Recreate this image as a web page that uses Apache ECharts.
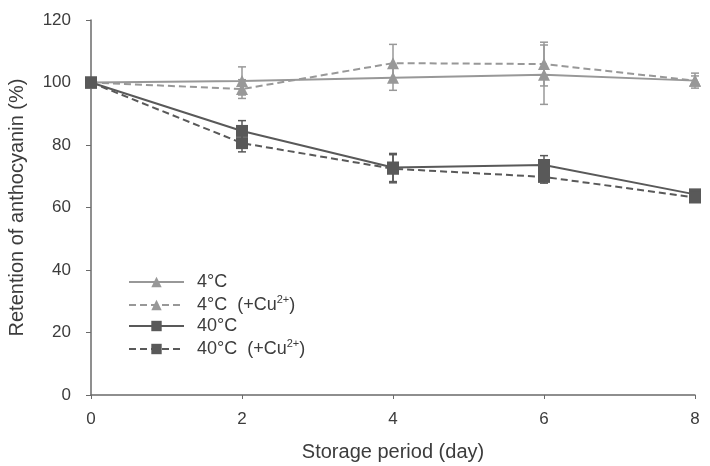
<!DOCTYPE html>
<html>
<head>
<meta charset="utf-8">
<script src="https://cdn.jsdelivr.net/npm/echarts@6/dist/echarts.min.js"></script>
<style>
  html, body { margin: 0; padding: 0; background: #fff; }
  #chart { width: 710px; height: 466px; }
</style>
</head>
<body>
<div id="chart"></div>
<script>
// storage period (day)
var days = [0, 2, 4, 6, 8];

// retention (%) and error (+/-) per treatment
var c4 = [100, 100.5, 101.5, 102.5, 100.6];
var c4Err = [0, 4.5, 4, 9.5, 1.5];
var c4Cu = [100, 97.9, 106.2, 105.9, 100.6];
var c4CuErr = [0, 3, 6, 7, 2.4];
var c40 = [100, 84.5, 72.8, 73.6, 64.2];
var c40Err = [0, 3.3, 4.5, 3, 1];
var c40Cu = [100, 80.6, 72.4, 69.8, 63.2];
var c40CuErr = [0, 2.8, 4.5, 2, 1];

var names = ['4°C', '4°C  (+Cu2+)', '40°C', '40°C  (+Cu2+)'];
var light = '#989898';
var dark = '#595959';
var txt = '#3c3c3c';

function pairs(vals) {
  return days.map(function (d, i) { return [d, vals[i]]; });
}

function errorSeries(vals, errs, color) {
  return {
    type: 'custom',
    name: 'err',
    z: 3,
    data: days.map(function (d, i) { return [d, vals[i] - errs[i], vals[i] + errs[i]]; }),
    renderItem: function (params, api) {
      var lo = api.coord([api.value(0), api.value(1)]);
      var hi = api.coord([api.value(0), api.value(2)]);
      var w = 4;
      var st = { stroke: color, lineWidth: 1.5 };
      return {
        type: 'group',
        children: [
          { type: 'line', shape: { x1: lo[0], y1: lo[1], x2: hi[0], y2: hi[1] }, style: st },
          { type: 'line', shape: { x1: lo[0] - w, y1: lo[1], x2: lo[0] + w, y2: lo[1] }, style: st },
          { type: 'line', shape: { x1: hi[0] - w, y1: hi[1], x2: hi[0] + w, y2: hi[1] }, style: st }
        ]
      };
    }
  };
}

function lineSeries(name, vals, color, symbol, size, dashed) {
  return {
    type: 'line',
    name: name,
    z: 4,
    data: pairs(vals),
    symbol: symbol,
    symbolSize: size,
    showSymbol: true,
    itemStyle: { color: color },
    lineStyle: { color: color, width: 2, type: dashed ? [7, 4] : 'solid' }
  };
}

var chart = echarts.init(document.getElementById('chart'));

chart.setOption({
  animation: false,
  textStyle: { fontFamily: 'Liberation Sans, Arial, sans-serif' },
  grid: { left: 91, right: 15, top: 20, bottom: 71, outerBoundsMode: 'none', containLabel: false },
  legend: {
    data: names,
    orient: 'vertical',
    left: 123,
    top: 268,
    itemWidth: 55,
    itemHeight: 13,
    itemGap: 3,
    textStyle: {
      fontSize: 18,
      color: txt,
      lineHeight: 18,
      rich: {
        f: { fontSize: 18, color: txt, lineHeight: 18, padding: [0, 0, 0, 8] },
        a: { fontSize: 18, color: txt, lineHeight: 18 },
        sup: { fontSize: 11, color: txt, lineHeight: 18, verticalAlign: 'bottom', padding: [0, 0, 9, 0] }
      }
    },
    formatter: function (n) {
      if (n.indexOf('Cu2+') >= 0) {
        return '{f|' + n.replace('Cu2+)', 'Cu') + '}{sup|2+}{a|)}';
      }
      return '{f|' + n + '}';
    }
  },
  xAxis: {
    type: 'value',
    min: 0,
    max: 8,
    interval: 2,
    name: 'Storage period (day)',
    nameLocation: 'middle',
    nameGap: 47,
    nameTextStyle: { fontSize: 20, color: txt },
    axisLine: { lineStyle: { color: '#6a6a6a', width: 1.5 } },
    axisTick: { show: true, length: 4, lineStyle: { color: '#6a6a6a' } },
    axisLabel: { fontSize: 17, color: txt, margin: 16 },
    splitLine: { show: false }
  },
  yAxis: {
    type: 'value',
    min: 0,
    max: 120,
    interval: 20,
    name: 'Retention of anthocyanin (%)',
    nameLocation: 'middle',
    nameGap: 64,
    nameTextStyle: { fontSize: 20, color: txt },
    axisLine: { show: true, lineStyle: { color: '#6a6a6a', width: 1.5 } },
    axisTick: { show: true, length: 5, lineStyle: { color: '#6a6a6a' } },
    axisLabel: { fontSize: 17, color: txt, margin: 20 },
    splitLine: { show: false }
  },
  series: [
    errorSeries(c4, c4Err, light),
    errorSeries(c4Cu, c4CuErr, light),
    errorSeries(c40, c40Err, dark),
    errorSeries(c40Cu, c40CuErr, dark),
    lineSeries(names[0], c4, light, 'triangle', 12, false),
    lineSeries(names[1], c4Cu, light, 'triangle', 12, true),
    lineSeries(names[2], c40, dark, 'rect', 12, false),
    lineSeries(names[3], c40Cu, dark, 'rect', 12, true)
  ]
});
</script>
</body>
</html>
